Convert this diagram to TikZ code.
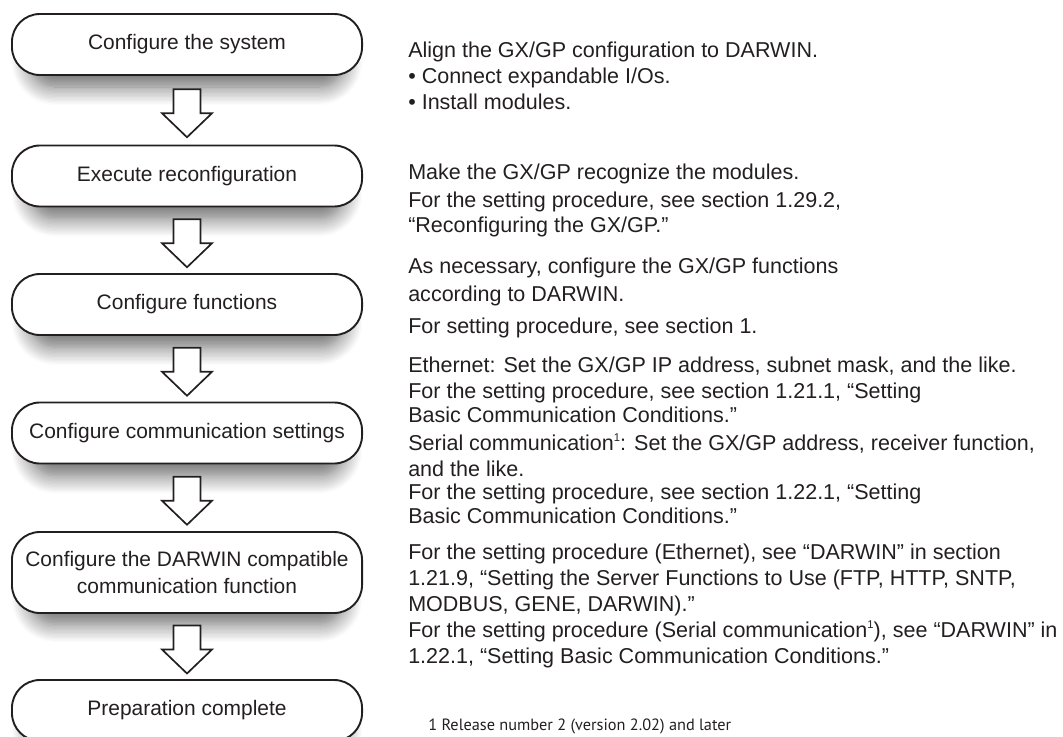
\documentclass[tikz,border=0pt]{standalone}
\usepackage{fontspec}
\setmainfont{Liberation Sans}
\newfontfamily\footfont{PT Sans}
\usetikzlibrary{calc,shadows.blur}
\definecolor{ink}{RGB}{35,31,32}
\newcommand{\relmark}{\raisebox{0.75ex}{\fontsize{8pt}{8pt}\selectfont 1}}

\begin{document}
\begin{tikzpicture}[x=0.025cm, y=-0.025cm,
  stage/.style={draw=ink, line width=1.35pt, rounded corners=0.7cm, fill=white, minimum width=8.75cm, minimum height=1.525cm, align=center, text=ink, font=\fontsize{14.9pt}{19pt}\selectfont,
    blur shadow={shadow xshift=0pt, shadow yshift=-0.42cm, shadow blur radius=0.5cm, shadow blur steps=14, shadow opacity=60, shadow scale=0.9}},
  note/.style={anchor=base west, align=left, inner sep=0pt, text=ink, font=\fontsize{15.3pt}{18.4pt}\selectfont},
  foot/.style={anchor=base west, inner sep=0pt, text=ink, font=\footfont\fontsize{11.6pt}{14pt}\selectfont},
  flowarrow/.pic={\draw[draw=ink, line width=1.2pt, fill=white, line join=miter] (-13.5,-24) -- (13.5,-24) -- (13.5,0) -- (25,0) -- (0,24) -- (-25,0) -- (-13.5,0) -- cycle;},
]
\useasboundingbox (0,0) rectangle (1063,736);

% Steps (left column)
\node[stage] (system) at (187,44.5) {Configure the system};
\node[stage] (reconf) at (187,176) {Execute reconfiguration};
\node[stage] (func)   at (187,304.5) {Configure functions};
\node[stage] (comm)   at (187,433) {Configure communication settings};
\node[stage, minimum height=2.025cm] (darwin) at (187,572.5) {Configure the DARWIN compatible\\communication function};
\node[stage] (done)   at (187,710.5) {Preparation complete};

% Arrows between steps
\pic at ($(system.south)!0.5!(reconf.north)+(0,3)$) {flowarrow};
\pic at ($(reconf.south)!0.5!(func.north)+(0,3)$) {flowarrow};
\pic at ($(func.south)!0.5!(comm.north)+(0,3)$) {flowarrow};
\pic at ($(comm.south)!0.5!(darwin.north)+(0,3)$) {flowarrow};
\pic at ($(darwin.south)!0.5!(done.north)+(0,3)$) {flowarrow};

% Notes (right column), placed by the baseline of their last line
\node[note] (n1) at (408,109) {Align the GX/GP configuration to DARWIN.\\
  • Connect expandable I/Os.\\
  • Install modules.};
\node[note] (n2) at (408,232) {Make the GX/GP recognize the modules.\\[1.5pt]
  For the setting procedure, see section 1.29.2,\\[-1pt]
  “Reconfiguring the GX/GP.”};
\node[note] (n3) at (408,333) {As necessary, configure the GX/GP functions\\[1.4pt]
  according to DARWIN.\\[4.2pt]
  For setting procedure, see section 1.};
\node[note] (n4) at (408,523) {Ethernet: Set the GX/GP IP address, subnet mask, and the like.\\
  For the setting procedure, see section 1.21.1, “Setting\\[-1.4pt]
  Basic Communication Conditions.”\\[1.4pt]
  Serial communication\relmark: Set the GX/GP address, receiver function,\\
  and the like.\\[-1.4pt]
  For the setting procedure, see section 1.22.1, “Setting\\[-2pt]
  Basic Communication Conditions.”};
\node[note] (n5) at (408,663) {For the setting procedure (Ethernet), see “DARWIN” in section\\
  1.21.9, “Setting the Server Functions to Use (FTP, HTTP, SNTP,\\
  MODBUS, GENE, DARWIN).”\\
  For the setting procedure (Serial communication\relmark), see “DARWIN” in\\
  1.22.1, “Setting Basic Communication Conditions.”};

% Footnote
\node[foot] (fn) at (428,730) {1 Release number 2 (version 2.02) and later};

\end{tikzpicture}
\end{document}
